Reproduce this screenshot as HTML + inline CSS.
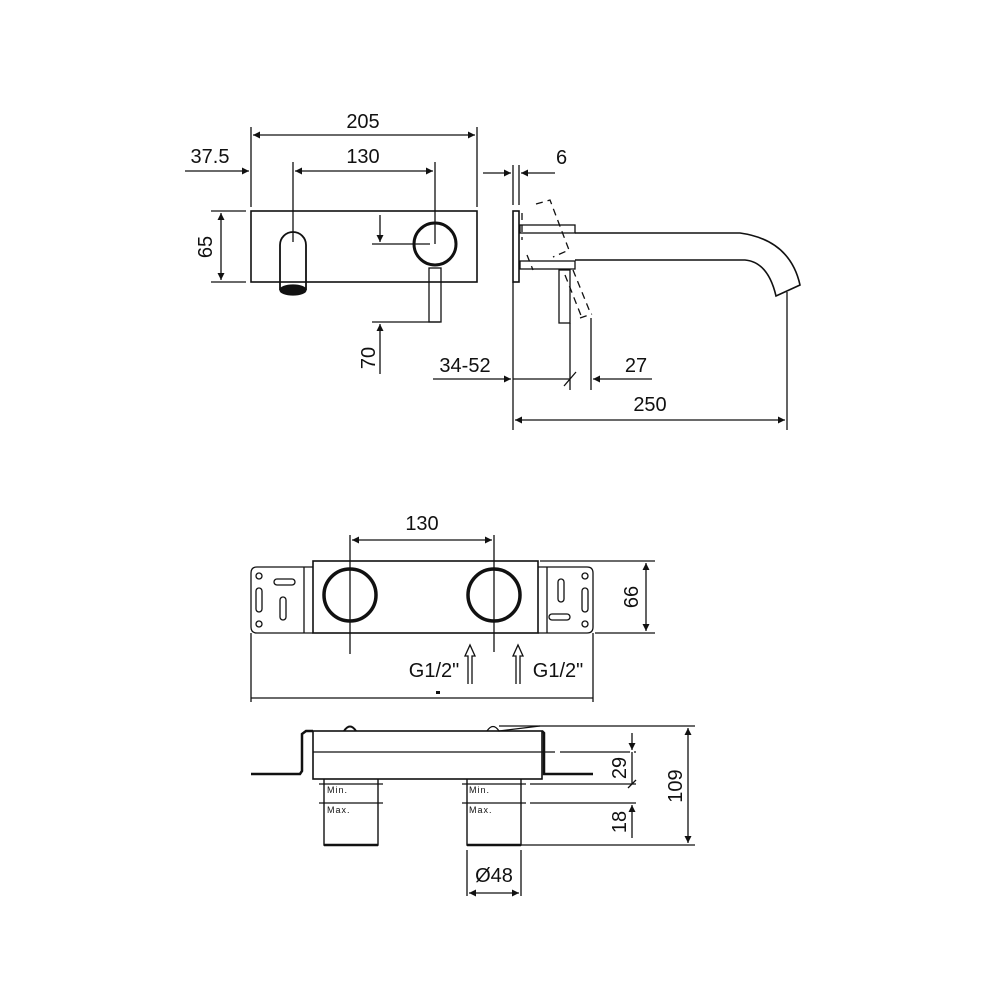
<!DOCTYPE html>
<html><head><meta charset="utf-8"><style>
html,body{margin:0;padding:0;background:#fff;width:1000px;height:1000px;overflow:hidden}
text{font-family:"Liberation Sans",Arial,sans-serif;fill:#111}
</style></head><body>
<svg width="1000" height="1000" viewBox="0 0 1000 1000" xmlns="http://www.w3.org/2000/svg">
<defs>
<marker id="a" viewBox="0 0 10 10" refX="10" refY="5" markerWidth="14" markerHeight="7" orient="auto-start-reverse" markerUnits="userSpaceOnUse"><path d="M0,0 L10,5 L0,10 z" fill="#111"/></marker>
</defs>
<g stroke="#111" stroke-width="1.3" fill="none">
<!-- front view -->
<rect x="251" y="211" width="226" height="71" stroke-width="1.6"/>
<line x1="251" y1="127" x2="251" y2="207"/>
<line x1="477" y1="127" x2="477" y2="207"/>
<line x1="253" y1="135" x2="475" y2="135" marker-start="url(#a)" marker-end="url(#a)"/>
<line x1="185" y1="171" x2="249" y2="171" marker-end="url(#a)"/>
<line x1="295" y1="171" x2="433" y2="171" marker-start="url(#a)" marker-end="url(#a)"/>
<line x1="293" y1="162" x2="293" y2="242"/>
<line x1="435" y1="162" x2="435" y2="244"/>
<line x1="211" y1="211" x2="246" y2="211"/>
<line x1="211" y1="282" x2="246" y2="282"/>
<line x1="221" y1="213" x2="221" y2="280" marker-start="url(#a)" marker-end="url(#a)"/>
<path d="M280,290 L280,245 A13,13 0 0 1 306,245 L306,290" stroke-width="1.8"/>
<ellipse cx="293" cy="290" rx="13" ry="5" fill="#111"/>
<circle cx="435" cy="244" r="21" stroke-width="3"/>
<rect x="429" y="268" width="12" height="54"/>
<line x1="372" y1="244" x2="430" y2="244"/>
<line x1="372" y1="322" x2="440" y2="322"/>
<line x1="380" y1="215" x2="380" y2="242" marker-end="url(#a)"/>
<line x1="380" y1="374" x2="380" y2="324" marker-end="url(#a)"/>
<!-- side view -->
<rect x="513" y="211" width="6" height="71" stroke-width="1.6"/>
<line x1="513" y1="165" x2="513" y2="205"/>
<line x1="519" y1="165" x2="519" y2="205"/>
<line x1="483" y1="173" x2="511" y2="173" marker-end="url(#a)"/>
<line x1="555" y1="173" x2="521" y2="173" marker-end="url(#a)"/>
<rect x="520" y="225" width="55" height="8"/>
<rect x="520" y="261" width="55" height="8"/>
<path d="M575,233 L740,233 Q790,240 800,285 L776,296 Q768,262 745,260 L575,260" stroke-width="1.6"/>
<rect x="559" y="270" width="11" height="53"/>
<g stroke-dasharray="7,5">
<path d="M536,204 L550,200 L569,250 L553,257"/>
<line x1="522" y1="213" x2="522" y2="240"/>
<line x1="527" y1="255" x2="533" y2="270"/>
<line x1="565" y1="275" x2="582" y2="318"/>
<line x1="573" y1="270" x2="590" y2="312"/>
<line x1="580" y1="318" x2="592" y2="314"/>
</g>
<line x1="513" y1="282" x2="513" y2="430"/>
<line x1="787" y1="292" x2="787" y2="430"/>
<line x1="570" y1="323" x2="570" y2="390"/>
<line x1="591" y1="318" x2="591" y2="390"/>
<line x1="564" y1="386" x2="576" y2="372"/>
<line x1="433" y1="379" x2="511" y2="379" marker-end="url(#a)"/>
<line x1="513" y1="379" x2="570" y2="379"/>
<line x1="652" y1="379" x2="593" y2="379" marker-end="url(#a)"/>
<line x1="515" y1="420" x2="785" y2="420" marker-start="url(#a)" marker-end="url(#a)"/>
<!-- plan view -->
<rect x="313" y="561" width="225" height="72" stroke-width="1.6"/>
<path d="M313,567 L257,567 Q251,567 251,573 L251,627 Q251,633 257,633 L313,633"/>
<line x1="304" y1="567" x2="304" y2="633"/>
<path d="M538,567 L587,567 Q593,567 593,573 L593,627 Q593,633 587,633 L538,633"/>
<line x1="547" y1="567" x2="547" y2="633"/>
<circle cx="259" cy="576" r="3"/><circle cx="259" cy="624" r="3"/>
<rect x="274" y="579" width="21" height="6" rx="3"/>
<rect x="256" y="588" width="6" height="24" rx="3"/>
<rect x="280" y="597" width="6" height="23" rx="3"/>
<circle cx="585" cy="576" r="3"/><circle cx="585" cy="624" r="3"/>
<rect x="549" y="614" width="21" height="6" rx="3"/>
<rect x="582" y="588" width="6" height="24" rx="3"/>
<rect x="558" y="579" width="6" height="23" rx="3"/>
<circle cx="350" cy="595" r="26" stroke-width="3.5"/>
<circle cx="494" cy="595" r="26" stroke-width="3.5"/>
<line x1="350" y1="535" x2="350" y2="654"/>
<line x1="494" y1="535" x2="494" y2="652"/>
<line x1="352" y1="540" x2="492" y2="540" marker-start="url(#a)" marker-end="url(#a)"/>
<line x1="540" y1="561" x2="655" y2="561"/>
<line x1="595" y1="633" x2="655" y2="633"/>
<line x1="646" y1="563" x2="646" y2="631" marker-start="url(#a)" marker-end="url(#a)"/>
<line x1="251" y1="633" x2="251" y2="702"/>
<line x1="593" y1="633" x2="593" y2="702"/>
<line x1="251" y1="698" x2="593" y2="698"/>
<path d="M468,684 L468,656 L465,656 L470,645 L475,656 L472,656 L472,684"/>
<path d="M516,684 L516,656 L513,656 L518,645 L523,656 L520,656 L520,684"/>
<!-- lower side view -->
<rect x="313" y="731" width="229" height="48" stroke-width="1.6"/>
<line x1="313" y1="752" x2="555" y2="752"/>
<line x1="560" y1="752" x2="636" y2="752" stroke-dasharray="70,4"/>
<path d="M251,774 L300,774 L302,771 L302,734 L306,731 L313,731" stroke-width="2.5"/>
<path d="M542,731 L544,733 L544,774 L593,774" stroke-width="2.5"/>
<path d="M344,731 Q350,722 356,731" stroke-width="2"/>
<path d="M487,731 Q493,722 499,731 L540,726"/>
<line x1="499" y1="726" x2="695" y2="726"/>
<path d="M324,779 L324,845 L378,845 L378,779" stroke-width="1.4"/>
<line x1="324" y1="845" x2="378" y2="845" stroke-width="2.5"/>
<path d="M467,779 L467,845 L521,845 L521,779" stroke-width="1.4"/>
<line x1="467" y1="845" x2="521" y2="845" stroke-width="2.5"/>
<line x1="319" y1="784" x2="383" y2="784"/>
<line x1="319" y1="803" x2="383" y2="803"/>
<line x1="462" y1="784" x2="526" y2="784"/>
<line x1="462" y1="803" x2="526" y2="803"/>
<line x1="530" y1="784" x2="636" y2="784"/>
<line x1="530" y1="803" x2="636" y2="803"/>
<line x1="521" y1="845" x2="695" y2="845"/>
<line x1="632" y1="733" x2="632" y2="750" marker-end="url(#a)"/>
<line x1="632" y1="752" x2="632" y2="784"/>
<line x1="628" y1="788" x2="636" y2="780"/>
<line x1="632" y1="838" x2="632" y2="805" marker-end="url(#a)"/>
<line x1="688" y1="728" x2="688" y2="843" marker-start="url(#a)" marker-end="url(#a)"/>
<line x1="467" y1="850" x2="467" y2="896"/>
<line x1="521" y1="850" x2="521" y2="896"/>
<line x1="469" y1="893" x2="519" y2="893" marker-start="url(#a)" marker-end="url(#a)"/>
</g>
<rect x="436" y="691" width="4" height="3" fill="#111"/>
<g font-size="20">
<text x="363" y="128" text-anchor="middle">205</text>
<text x="210" y="163" text-anchor="middle">37.5</text>
<text x="363" y="163" text-anchor="middle">130</text>
<text x="556" y="164">6</text>
<text transform="translate(212,247) rotate(-90)" text-anchor="middle">65</text>
<text transform="translate(375,358) rotate(-90)" text-anchor="middle">70</text>
<text x="465" y="372" text-anchor="middle">34-52</text>
<text x="636" y="372" text-anchor="middle">27</text>
<text x="650" y="411" text-anchor="middle">250</text>
<text x="422" y="530" text-anchor="middle">130</text>
<text transform="translate(638,597) rotate(-90)" text-anchor="middle">66</text>
<text x="434" y="677" text-anchor="middle">G1/2"</text>
<text x="558" y="677" text-anchor="middle">G1/2"</text>
<text transform="translate(626,768) rotate(-90)" text-anchor="middle">29</text>
<text transform="translate(626,822) rotate(-90)" text-anchor="middle">18</text>
<text transform="translate(682,786) rotate(-90)" text-anchor="middle">109</text>
<text x="494" y="882" text-anchor="middle">Ø48</text>
</g>
<g font-size="9" letter-spacing="1">
<text x="327" y="793">Min.</text><text x="327" y="813">Max.</text>
<text x="469" y="793">Min.</text><text x="469" y="813">Max.</text>
</g>
</svg>
</body></html>
